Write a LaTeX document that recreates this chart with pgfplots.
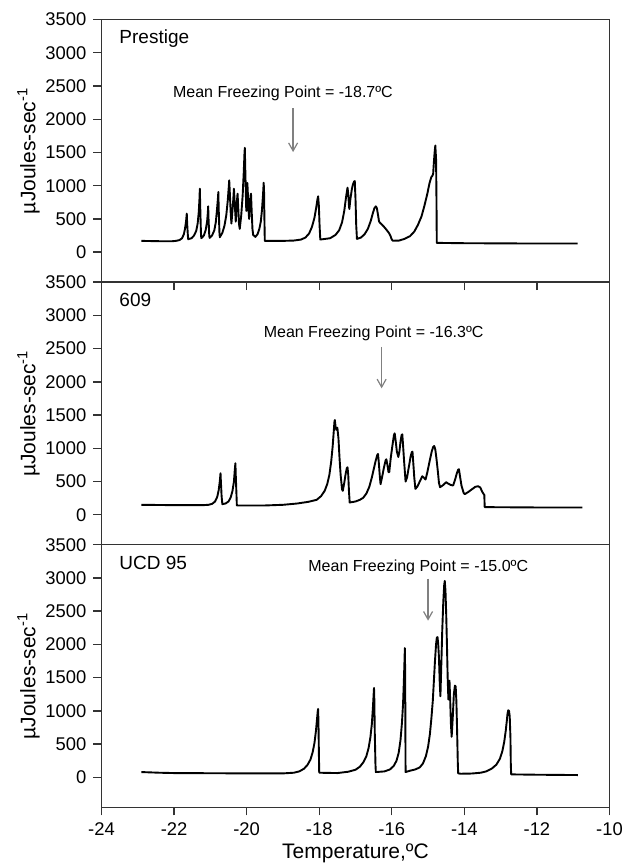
\documentclass[border=0pt]{standalone}
\usepackage{fontspec}
\setmainfont{Liberation Sans}
\usepackage{pgfplots}
\pgfplotsset{compat=1.18}
\usetikzlibrary{arrows.meta}

\pgfplotstableread{
x y
-22.90 170
-22.40 165
-22.05 165
-21.95 170
-21.85 182
-21.78 210
-21.73 270
-21.70 350
-21.67 460
-21.65 580
-21.64 440
-21.62 250
-21.61 195
-21.52 210
-21.45 250
-21.39 320
-21.35 430
-21.32 600
-21.30 800
-21.29 955
-21.28 700
-21.26 300
-21.25 210
-21.18 250
-21.13 330
-21.09 460
-21.07 590
-21.06 690
-21.05 500
-21.03 250
-21.02 215
-20.95 255
-20.89 330
-20.85 450
-20.82 620
-20.79 820
-20.78 905
-20.77 650
-20.75 300
-20.74 225
-20.67 290
-20.61 400
-20.56 560
-20.52 780
-20.49 1000
-20.48 1080
-20.46 850
-20.44 600
-20.42 430
-20.40 560
-20.37 780
-20.35 955
-20.33 750
-20.31 560
-20.30 460
-20.28 650
-20.26 820
-20.25 880
-20.23 650
-20.21 420
-20.19 350
-20.15 550
-20.11 850
-20.08 1200
-20.06 1480
-20.05 1570
-20.04 1300
-20.02 850
-20.01 620
-20.00 680
-19.99 950
-19.98 1040
-19.96 800
-19.94 560
-19.93 500
-19.91 700
-19.89 850
-19.88 880
-19.86 600
-19.84 350
-19.82 260
-19.76 230
-19.70 270
-19.65 350
-19.61 460
-19.58 620
-19.55 850
-19.53 1045
-19.52 900
-19.51 500
-19.50 170
-19.00 170
-18.70 175
-18.50 190
-18.38 220
-18.28 280
-18.20 380
-18.13 520
-18.08 680
-18.05 790
-18.03 840
-18.01 700
-17.99 400
-17.97 190
-17.70 210
-17.55 260
-17.45 330
-17.37 450
-17.31 620
-17.26 830
-17.22 970
-17.20 880
-17.18 700
-17.17 650
-17.14 800
-17.10 950
-17.07 1020
-17.04 1060
-17.02 1070
-17.00 800
-16.98 400
-16.96 200
-16.85 220
-16.75 270
-16.66 350
-16.58 470
-16.52 590
-16.48 660
-16.44 690
-16.41 660
-16.38 560
-16.35 460
-16.32 440
-16.28 420
-16.22 385
-16.15 340
-16.08 290
-16.04 250
-16.00 190
-15.97 172
-15.80 175
-15.65 200
-15.50 240
-15.38 310
-15.28 410
-15.18 540
-15.10 700
-15.02 880
-14.96 1040
-14.91 1130
-14.88 1150
-14.86 1180
-14.84 1350
-14.82 1500
-14.80 1605
-14.78 1400
-14.77 900
-14.76 140
-14.00 135
-12.00 130
-10.88 130
}\prestige

\pgfplotstableread{
x y
-22.90 150
-22.00 145
-21.20 145
-21.05 150
-20.95 165
-20.87 200
-20.81 270
-20.77 370
-20.74 500
-20.72 625
-20.71 500
-20.69 280
-20.67 160
-20.58 170
-20.50 200
-20.44 260
-20.39 360
-20.35 500
-20.33 650
-20.31 775
-20.30 600
-20.28 300
-20.27 140
-19.50 140
-19.00 150
-18.60 170
-18.30 195
-18.07 225
-17.95 280
-17.85 360
-17.78 460
-17.72 600
-17.67 800
-17.63 1025
-17.60 1250
-17.58 1400
-17.57 1425
-17.55 1330
-17.53 1280
-17.50 1310
-17.47 1150
-17.44 850
-17.41 600
-17.37 380
-17.35 360
-17.31 480
-17.27 620
-17.24 700
-17.22 715
-17.20 600
-17.18 350
-17.16 185
-17.00 200
-16.88 225
-16.79 255
-16.70 320
-16.62 420
-16.55 560
-16.50 680
-16.45 800
-16.40 900
-16.38 915
-16.36 800
-16.33 580
-16.31 460
-16.27 560
-16.22 700
-16.17 820
-16.15 835
-16.12 750
-16.09 640
-16.07 640
-16.03 850
-15.98 1050
-15.94 1200
-15.92 1225
-15.89 1100
-15.86 950
-15.82 870
-15.79 950
-15.76 1100
-15.73 1200
-15.71 1210
-15.69 1050
-15.66 800
-15.62 500
-15.58 560
-15.53 720
-15.48 880
-15.45 940
-15.43 950
-15.41 800
-15.38 560
-15.35 390
-15.30 420
-15.22 510
-15.16 580
-15.12 560
-15.07 530
-15.02 640
-14.96 800
-14.90 950
-14.86 1020
-14.83 1035
-14.80 980
-14.77 850
-14.73 650
-14.70 480
-14.67 415
-14.60 440
-14.50 490
-14.45 470
-14.38 450
-14.31 440
-14.26 520
-14.21 620
-14.17 680
-14.15 685
-14.12 580
-14.08 440
-14.02 330
-13.99 310
-13.90 340
-13.80 380
-13.70 420
-13.62 430
-13.56 410
-13.52 360
-13.48 320
-13.45 300
-13.44 115
-12.00 110
-10.75 110
}\sixonine

\pgfplotstableread{
x y
-22.90 80
-22.40 70
-22.00 65
-20.00 60
-19.00 60
-18.70 70
-18.55 90
-18.42 130
-18.32 190
-18.24 270
-18.18 380
-18.13 520
-18.09 700
-18.06 880
-18.04 1000
-18.03 1030
-18.02 800
-18.01 400
-18.00 70
-17.50 65
-17.20 85
-17.00 115
-16.88 160
-16.78 230
-16.70 320
-16.64 440
-16.59 600
-16.55 800
-16.52 1050
-16.50 1250
-16.49 1345
-16.48 1150
-16.47 700
-16.45 200
-16.44 80
-16.20 90
-16.05 120
-15.95 170
-15.87 250
-15.81 370
-15.76 560
-15.72 820
-15.69 1100
-15.67 1400
-15.65 1750
-15.64 1945
-15.63 1500
-15.625 700
-15.62 80
-15.50 100
-15.35 120
-15.23 150
-15.14 210
-15.06 320
-15.00 460
-14.95 650
-14.91 880
-14.87 1150
-14.84 1450
-14.81 1750
-14.78 2000
-14.76 2100
-14.74 2110
-14.72 2000
-14.70 1800
-14.68 1450
-14.66 1220
-14.64 1600
-14.61 2200
-14.58 2650
-14.555 2900
-14.54 2955
-14.52 2800
-14.50 2450
-14.48 2000
-14.46 1500
-14.44 1170
-14.42 1450
-14.41 1455
-14.39 1150
-14.37 800
-14.35 610
-14.32 900
-14.29 1250
-14.26 1380
-14.24 1370
-14.22 1150
-14.20 700
-14.18 200
-14.17 60
-14.10 55
-13.80 58
-13.55 70
-13.40 90
-13.25 130
-13.12 190
-13.02 280
-12.95 400
-12.90 540
-12.86 700
-12.83 850
-12.81 960
-12.79 1010
-12.77 1000
-12.75 920
-12.73 600
-12.72 200
-12.71 45
-12.00 40
-10.87 35
}\ucd

\pgfplotsset{
  panel/.style={
    width=254pt, height=131.3pt, scale only axis,
    xmin=-24, xmax=-10, ymin=-450, ymax=3500,
    xtick={-24,-22,...,-10}, ytick={0,500,...,3500},
    tick align=outside, major tick length=4pt,
    xtick pos=bottom, ytick pos=left,
    axis line style={black!80, line width=0.7pt},
    every tick/.style={black!80, line width=0.7pt},
    tick label style={font=\fontsize{9.2}{11}\selectfont},
    label style={font=\fontsize{10.5}{12}\selectfont},
    /pgf/number format/assume math mode=true,
    /pgf/number format/1000 sep={},
    ylabel={µJoules-sec\textsuperscript{-1}},
    ylabel shift=-4pt,
  },
  curve/.style={black, line width=0.95pt, line join=round},
}
\tikzset{
  mfp/.style={font=\fontsize{8}{10}\selectfont},
  pname/.style={anchor=west, font=\fontsize{9.5}{11}\selectfont},
  farrow/.style={gray, line width=0.6pt, -{Straight Barb[length=4pt,width=4.5pt]}},
}

\begin{document}
\begin{tikzpicture}
  \begin{axis}[panel, name=c, at={(0,0)}, anchor=south west,
      xlabel={Temperature,ºC}, xlabel shift=-2.5pt]
    \addplot[curve] table {\ucd};
    \node[pname] at (axis cs:-23.7,3218) {UCD 95};
    \node[mfp] at (axis cs:-15.27,3153) {Mean Freezing Point = -15.0ºC};
    \draw[farrow] (axis cs:-15.0,2988) -- (axis cs:-15.0,2357);
  \end{axis}

  \begin{axis}[panel, name=b, at={(c.north west)}, anchor=south west,
      xtick=\empty]
    \addplot[curve] table {\sixonine};
    \node[pname] at (axis cs:-23.7,3228) {609};
    \node[mfp] at (axis cs:-16.5,2728) {Mean Freezing Point = -16.3ºC};
    \draw[farrow] (axis cs:-16.28,2527) -- (axis cs:-16.28,1902);
  \end{axis}

  \begin{axis}[panel, name=a, at={(b.north west)}, anchor=south west,
      xticklabels={}]
    \addplot[curve] table {\prestige};
    \node[pname] at (axis cs:-23.7,3213) {Prestige};
    \node[mfp] at (axis cs:-19.0,2383) {Mean Freezing Point = -18.7ºC};
    \draw[farrow] (axis cs:-18.72,2162) -- (axis cs:-18.72,1506);
  \end{axis}

  \pgfresetboundingbox
  \path[use as bounding box] (-50.75pt,-28.85pt) rectangle (261.25pt,403.65pt);
\end{tikzpicture}
\end{document}
